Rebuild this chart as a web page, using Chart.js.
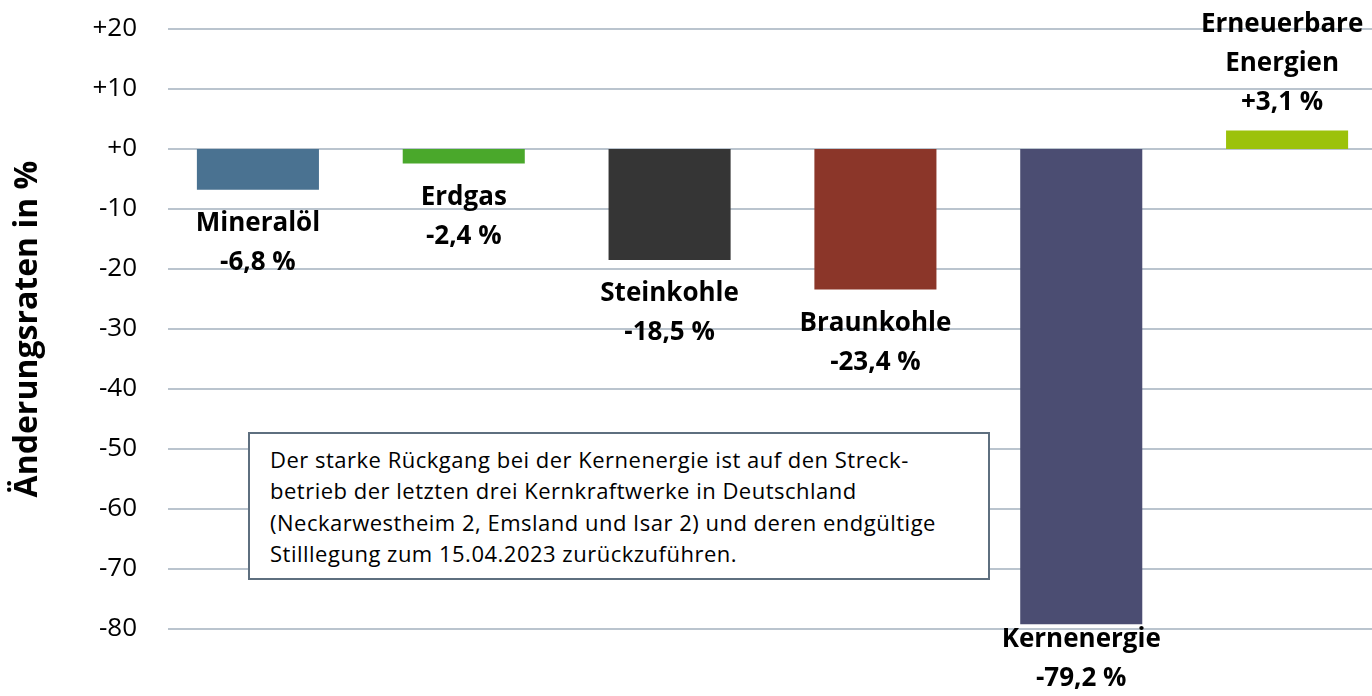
<!DOCTYPE html>
<html lang="de">
<head>
<meta charset="utf-8">
<title>Änderungsraten Primärenergieverbrauch</title>
<script src="https://cdn.jsdelivr.net/npm/chart.js@4.4.1/dist/chart.umd.min.js"></script>
<style>
  html, body { margin: 0; padding: 0; background: #fff; overflow: hidden; width: 1372px; height: 696px; }
  #wrap { position: absolute; left: 0; top: 0; width: 1390px; height: 696px; }
  #note {
    position: absolute; left: 248px; top: 432px; width: 742px; height: 148px;
    border: 2px solid #5E6F7F; background: #fff; box-sizing: border-box;
    font-family: "Open Sans", "Noto Sans", sans-serif; font-size: 22px; line-height: 31.4px; color: #000;
    letter-spacing: 0.5px; padding: 10px 0 0 20px; white-space: nowrap;
  }
</style>
</head>
<body>
<div id="wrap"><canvas id="c"></canvas></div>
<div id="note">Der starke Rückgang bei der Kernenergie ist auf den Streck-<br>betrieb der letzten drei Kernkraftwerke in Deutschland<br>(Neckarwestheim 2, Emsland und Isar 2) und deren endgültige<br>Stilllegung zum 15.04.2023 zurückzuführen.</div>
<script>
// ---- data ----
const categories = ['Mineralöl', 'Erdgas', 'Steinkohle', 'Braunkohle', 'Kernenergie', 'Erneuerbare Energien'];
const labelLines = [['Mineralöl'], ['Erdgas'], ['Steinkohle'], ['Braunkohle'], ['Kernenergie'], ['Erneuerbare', 'Energien']];
const changePct = [-6.8, -2.4, -18.5, -23.4, -79.2, 3.1];
const barColors = ['#4A7291', '#4AA82B', '#353535', '#8B3629', '#4B4D72', '#9CC20B'];
const yMin = -80, yMax = 20, yStep = 10;
const axisTitle = 'Änderungsraten in %';

const FONT = '"Open Sans", "Noto Sans", sans-serif';
const fmt = v => (v > 0 ? '+' : '') + v.toFixed(1).replace('.', ',') + ' %';
const tickFmt = v => (v >= 0 ? '+' + v : String(v));

const gridPlugin = {
  id: 'gridLines',
  beforeDatasetsDraw(chart) {
    const { ctx, chartArea, scales: { y } } = chart;
    ctx.save();
    ctx.strokeStyle = '#BAC4CE';
    ctx.lineWidth = 2;
    y.ticks.forEach(t => {
      const py = Math.round(y.getPixelForValue(t.value));
      ctx.beginPath();
      ctx.moveTo(168, py);
      ctx.lineTo(chartArea.right, py);
      ctx.stroke();
    });
    ctx.restore();
  }
};

const labelPlugin = {
  id: 'barLabels',
  afterDatasetsDraw(chart) {
    const { ctx } = chart;
    const meta = chart.getDatasetMeta(0);
    const H = chart.height;
    const lh = 39;
    ctx.save();
    ctx.fillStyle = '#000';
    ctx.font = 'bold 26px ' + FONT;
    ctx.textAlign = 'center';
    ctx.textBaseline = 'middle';
    meta.data.forEach((el, i) => {
      const v = changePct[i];
      const lines = labelLines[i].concat([fmt(v)]);
      if (v < 0) {
        let first = el.y + 34;
        const lastLimit = H - 17;
        if (first + (lines.length - 1) * lh > lastLimit) first = lastLimit - (lines.length - 1) * lh;
        lines.forEach((s, k) => ctx.fillText(s, el.x, first + k * lh));
      } else {
        const last = el.y - 28;
        lines.forEach((s, k) => ctx.fillText(s, el.x - 5, last - (lines.length - 1 - k) * lh));
      }
    });
    ctx.restore();
  }
};

new Chart(document.getElementById('c'), {
  type: 'bar',
  data: {
    labels: categories,
    datasets: [{
      data: changePct,
      backgroundColor: barColors,
      borderWidth: 0,
      barPercentage: 0.593,
      categoryPercentage: 1
    }]
  },
  options: {
    responsive: true,
    maintainAspectRatio: false,
    animation: false,
    events: [],
    layout: { padding: { top: 29, bottom: 67, left: 0, right: 0 } },
    plugins: { legend: { display: false }, tooltip: { enabled: false } },
    scales: {
      x: { display: false },
      y: {
        min: yMin, max: yMax,
        afterFit(scale) { scale.width = 155; scale.paddingTop = 0; scale.paddingBottom = 0; },
        grid: { display: false, drawTicks: false },
        border: { display: false },
        ticks: {
          stepSize: yStep,
          padding: 18,
          color: '#000',
          font: { family: FONT, size: 26 },
          callback: v => tickFmt(v)
        },
        title: {
          display: true,
          text: axisTitle,
          color: '#000',
          font: { family: FONT, size: 32, weight: 'bold' },
          padding: { top: 9, bottom: 0 }
        }
      }
    }
  },
  plugins: [gridPlugin, labelPlugin]
});
</script>
</body>
</html>
